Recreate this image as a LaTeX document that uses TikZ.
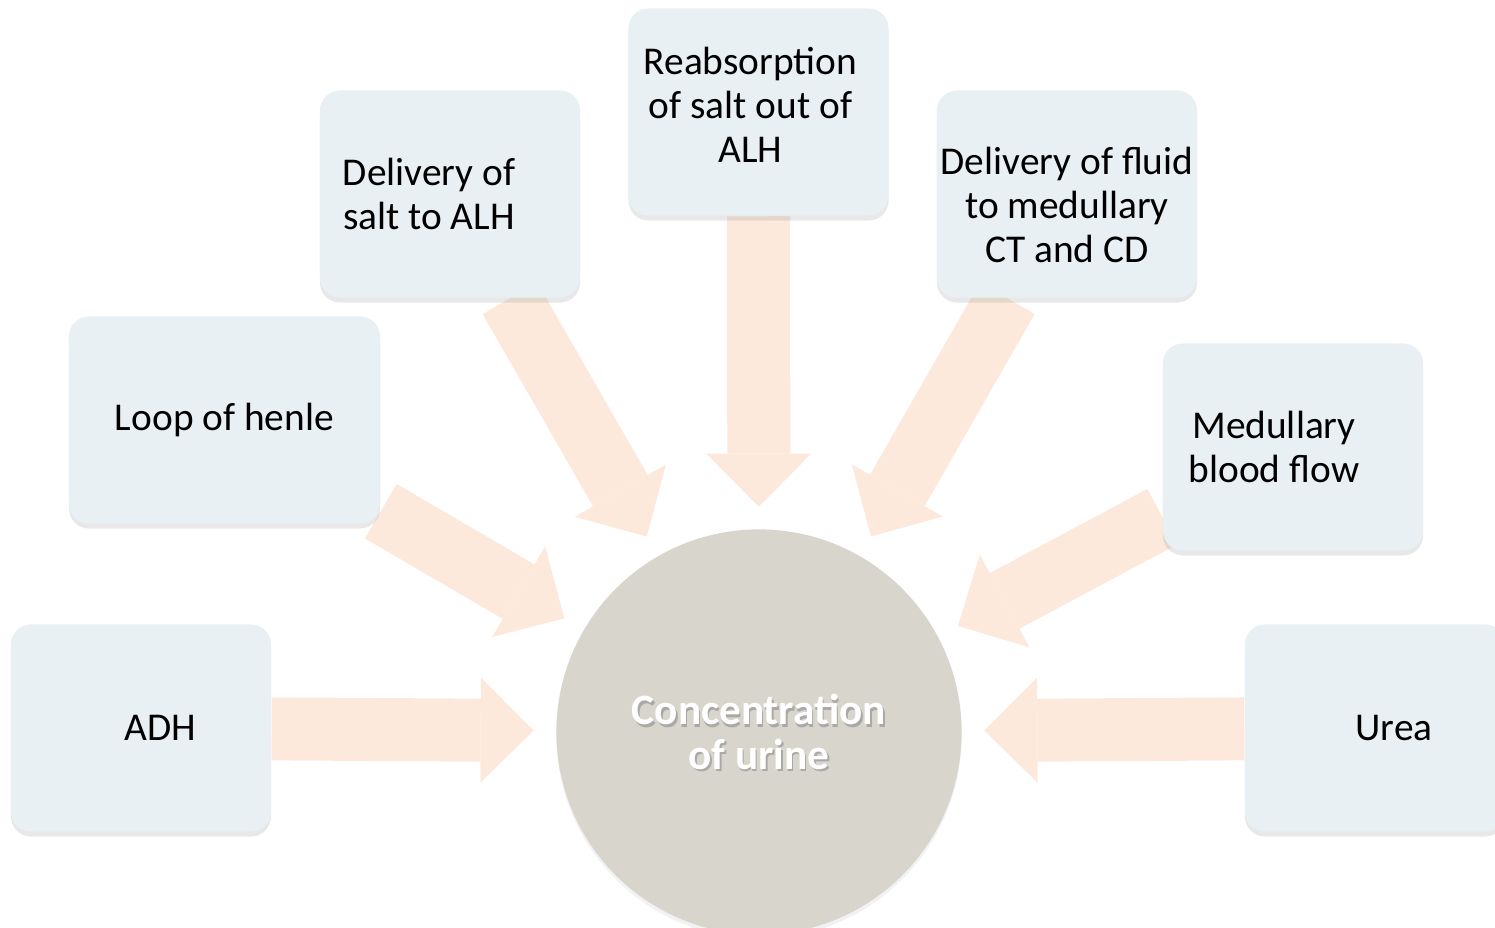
\documentclass[tikz,border=0pt]{standalone}
\usepackage{fontspec}
\setmainfont{Carlito}
\usepackage{tikz}
\usetikzlibrary{arrows.meta,shadows,backgrounds}
\definecolor{boxblue}{RGB}{232,240,243}
\definecolor{discgrey}{RGB}{216,213,204}
\definecolor{peach}{RGB}{252,233,220}

\begin{document}
\begin{tikzpicture}[x=0.01cm,y=-0.01cm,
  factor node/.style={rectangle,rounded corners=0.2cm,fill=boxblue,
    minimum width=2.6cm,minimum height=2.07cm,
    drop shadow={opacity=0.18,shadow xshift=0pt,shadow yshift=-0.05cm}},
  box text/.style={align=center,font=\fontsize{11.2}{12.6}\selectfont},
  centre node/.style={circle,fill=discgrey,minimum size=4.05cm,
    drop shadow={opacity=0.1,shadow xshift=0pt,shadow yshift=-0.04cm}},
  centre text/.style={align=center,text=white,
    font=\fontsize{12.3}{12.6}\selectfont\bfseries},
  flow arrow/.style={color=peach,line width=0.63cm,shorten >=0.22cm,
    -{Triangle[width=1.05cm,length=0.53cm,line width=0pt]}}]
  \useasboundingbox (0,0) rectangle (1495,928);

  \node[centre node] (urine) at (759,732) {};
  \node[centre text,text=black!45,opacity=0.6] (urineshade) at (760.5,734.5) {Concentration\\of urine};
  \node[centre text] (urinetext) at (urine) {Concentration\\of urine};

  \node[factor node,label={[box text,xshift=0.19cm]center:ADH}] (adh) at (141,728) {};
  \node[factor node,minimum width=3.11cm,label={[box text]center:Loop of henle}] (loop) at (224.5,420) {};
  \node[factor node,label={[box text,xshift=-0.21cm]center:Delivery of\\salt to ALH}] (salt) at (450,194) {};
  \node[factor node,label={[box text,xshift=-0.08cm,yshift=0.07cm]center:Reabsorption\\of salt out of\\ALH}] (reabs) at (758.5,112) {};
  \node[factor node,label={[box text,yshift=-0.11cm]center:Delivery of fluid\\to medullary\\CT and CD}] (fluid) at (1067,194) {};
  \node[factor node,label={[box text,xshift=-0.19cm]center:Medullary\\blood flow}] (blood) at (1293,447) {};
  \node[factor node,label={[box text,xshift=0.19cm]center:Urea}] (urea) at (1375,728) {};

  \begin{pgfonlayer}{background}
  \path[flow arrow]
    (adh) edge (urine)
    (loop) edge (urine)
    (salt) edge (urine)
    (reabs) edge (urine)
    (fluid) edge (urine)
    (blood) edge (urine)
    (urea) edge (urine);
  \end{pgfonlayer}
\end{tikzpicture}
\end{document}
